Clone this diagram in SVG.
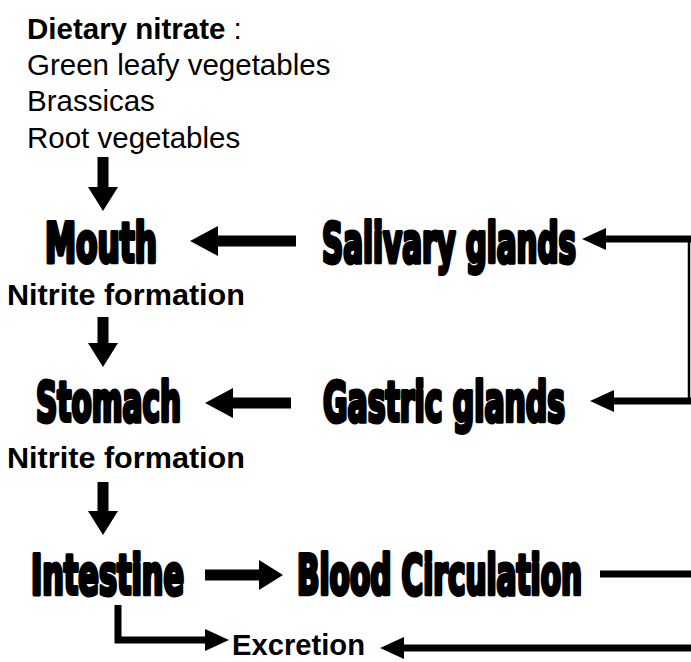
<svg xmlns="http://www.w3.org/2000/svg" width="691" height="662" viewBox="0 0 691 662">
<style>
.txt{font-family:"Liberation Sans",Arial,sans-serif;font-size:29.5px;fill:#000}
.b{font-weight:bold}
.big{font-family:"DejaVu Sans Condensed","DejaVu Sans","Liberation Sans",sans-serif;font-stretch:condensed;font-weight:bold;font-size:34px;fill:#000;stroke:#000;stroke-width:2.6;stroke-linejoin:round}
.thick{fill:none;stroke:#000;stroke-width:11}
.med{fill:none;stroke:#000;stroke-width:7}
.thin{fill:none;stroke:#000;stroke-width:2.5}
</style>
<defs>
<marker id="hd" markerUnits="userSpaceOnUse" viewBox="0 0 24 30" refX="0" refY="15" markerWidth="24" markerHeight="30" orient="auto"><path d="M0 0 L24 15 L0 30 Z" fill="#000"/></marker>
<marker id="hl" markerUnits="userSpaceOnUse" viewBox="0 0 28 30" refX="0" refY="15" markerWidth="28" markerHeight="30" orient="auto"><path d="M0 0 L28 15 L0 30 Z" fill="#000"/></marker>
<marker id="hs" markerUnits="userSpaceOnUse" viewBox="0 0 24 22" refX="0" refY="11" markerWidth="24" markerHeight="22" orient="auto"><path d="M0 0 L24 11 L0 22 Z" fill="#000"/></marker>
</defs>
<g id="diet">
<text class="txt" x="27" y="39"><tspan class="b">Dietary nitrate</tspan> :</text>
<text class="txt" x="27" y="75">Green leafy vegetables</text>
<text class="txt" x="27" y="111">Brassicas</text>
<text class="txt" x="27" y="148">Root vegetables</text>
</g>
<g id="mouth"><text class="big" transform="translate(45 262) scale(1 1.6)" x="0" y="0" textLength="112" lengthAdjust="spacingAndGlyphs">Mouth</text></g>
<g id="salivary"><text class="big" transform="translate(322 262) scale(1 1.6)" x="0" y="0" textLength="254" lengthAdjust="spacingAndGlyphs">Salivary glands</text></g>
<g id="nitrite1"><text class="txt b" x="7" y="305" textLength="238" lengthAdjust="spacingAndGlyphs">Nitrite formation</text></g>
<g id="stomach"><text class="big" transform="translate(36 421) scale(1 1.6)" x="0" y="0" textLength="145" lengthAdjust="spacingAndGlyphs">Stomach</text></g>
<g id="gastric"><text class="big" transform="translate(323 421) scale(1 1.6)" x="0" y="0" textLength="242" lengthAdjust="spacingAndGlyphs">Gastric glands</text></g>
<g id="nitrite2"><text class="txt b" x="7" y="468" textLength="238" lengthAdjust="spacingAndGlyphs">Nitrite formation</text></g>
<g id="intestine"><text class="big" transform="translate(31 594) scale(1 1.6)" x="0" y="0" textLength="153" lengthAdjust="spacingAndGlyphs">Intestine</text></g>
<g id="blood"><text class="big" transform="translate(297 594) scale(1 1.6)" x="0" y="0" textLength="285" lengthAdjust="spacingAndGlyphs">Blood Circulation</text></g>
<g id="excretion"><text class="txt b" x="232" y="655" font-size="26" textLength="133" lengthAdjust="spacingAndGlyphs">Excretion</text></g>
<g id="connectors">
<path class="thick" d="M103 157 V187" marker-end="url(#hd)"/>
<path class="thick" d="M296 241 H218" marker-end="url(#hl)"/>
<path class="med" d="M691 239 H606" marker-end="url(#hs)"/>
<path class="thin" d="M689 237 V402"/>
<path class="med" d="M691 401 H614" marker-end="url(#hs)"/>
<path class="thick" d="M103 317 V343" marker-end="url(#hd)"/>
<path class="thick" d="M291 403 H233" marker-end="url(#hl)"/>
<path class="thick" d="M103 482 V511" marker-end="url(#hd)"/>
<path class="thick" d="M205 575 H259" marker-end="url(#hd)"/>
<path class="med" d="M600 574 H691"/>
<path class="med" d="M118 605 V640 H205" marker-end="url(#hs)"/>
<path class="med" d="M691 648 H404" marker-end="url(#hs)"/>
</g>
</svg>
